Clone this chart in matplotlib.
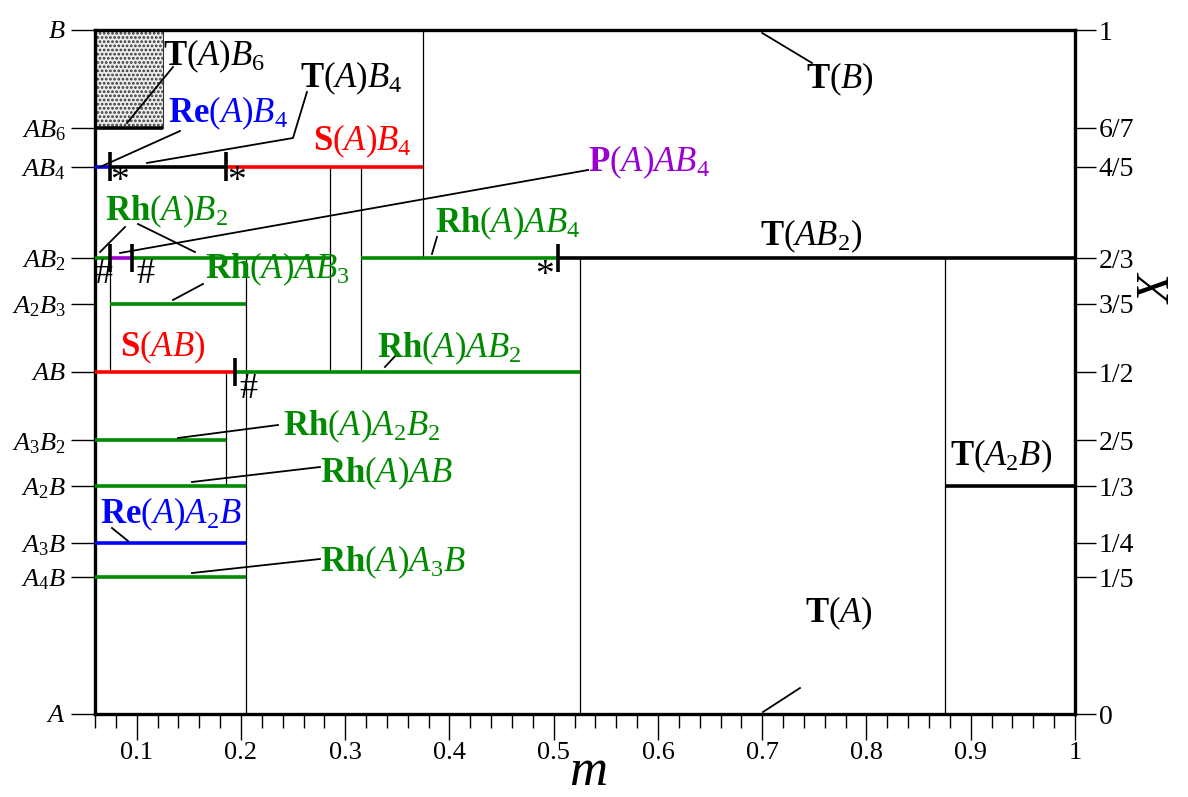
import matplotlib
matplotlib.use("Agg")
import matplotlib.pyplot as plt
from matplotlib.patches import Rectangle

plt.rcParams['font.family'] = ['Liberation Serif', 'DejaVu Serif']
plt.rcParams['mathtext.fontset'] = 'custom'
plt.rcParams['mathtext.rm'] = 'Liberation Serif'
plt.rcParams['mathtext.it'] = 'Liberation Serif:italic'
plt.rcParams['mathtext.bf'] = 'Liberation Serif:bold'
plt.rcParams['hatch.linewidth'] = 1.3

# ---------------- data ----------------
level_values = [0, 1/5, 1/4, 1/3, 2/5, 1/2, 3/5, 2/3, 4/5, 6/7, 1]
level_left_labels = [r'$A$', r'$A_{\mathit{4}}B$', r'$A_{\mathit{3}}B$', r'$A_{\mathit{2}}B$',
                     r'$A_{\mathit{3}}B_{\mathit{2}}$', r'$AB$', r'$A_{\mathit{2}}B_{\mathit{3}}$',
                     r'$AB_{\mathit{2}}$', r'$AB_{\mathit{4}}$', r'$AB_{\mathit{6}}$', r'$B$']
level_right_labels = ['0', '1/5', '1/4', '1/3', '2/5', '1/2', '3/5', '2/3', '4/5', '6/7', '1']

m_ticks = [0.1, 0.2, 0.3, 0.4, 0.5, 0.6, 0.7, 0.8, 0.9, 1.0]
m_tick_labels = ['0.1', '0.2', '0.3', '0.4', '0.5', '0.6', '0.7', '0.8', '0.9', '1']

# phase segments (composition level, m start, m end, structure kind)
seg_level = [6/7, 4/5, 4/5, 4/5, 2/3, 2/3, 2/3, 2/3, 2/3, 3/5, 1/2, 1/2, 2/5, 1/3, 1/3, 1/4, 1/5]
seg_start = [0.06, 0.06, 0.0744, 0.186, 0.06, 0.0744, 0.0955, 0.3151, 0.505, 0.0744,
             0.06, 0.1943, 0.06, 0.06, 0.875, 0.06, 0.06]
seg_end = [0.125, 0.0744, 0.186, 0.375, 0.0744, 0.0955, 0.2854, 0.505, 1.0, 0.205,
           0.1943, 0.525, 0.186, 0.205, 1.0, 0.205, 0.205]
seg_kind = ['T', 'Re', 'T', 'S', 'Rh', 'P', 'Rh', 'Rh', 'T', 'Rh',
            'S', 'Rh', 'Rh', 'Rh', 'T', 'Re', 'Rh']

# region boundaries (m, lower level, upper level)
bound_m = [0.0744, 0.186, 0.205, 0.2854, 0.3151, 0.375, 0.525, 0.875]
bound_lo = [1/2, 1/3, 0, 1/2, 1/2, 2/3, 0, 0]
bound_hi = [2/3, 1/2, 2/3, 4/5, 4/5, 1, 2/3, 2/3]

# transition marks
mark_m = [0.0744, 0.1857, 0.0744, 0.0955, 0.1943, 0.504]
mark_level = [4/5, 4/5, 2/3, 2/3, 1/2, 2/3]

# transition-order symbols
sym_text = ['*', '*', '*', '#', '#', '#']
sym_m = [0.084, 0.196, 0.4916, 0.0677, 0.108, 0.2067]
sym_level = [0.778, 0.778, 0.640, 0.642, 0.642, 0.4737]

# phase labels
lab_text = [r'$\mathbf{T}(A)B_{\mathit{6}}$', r'$\mathbf{T}(A)B_{\mathit{4}}$',
            r'$\mathbf{Re}(A)B_{\mathit{4}}$', r'$\mathbf{S}(A)B_{\mathit{4}}$',
            r'$\mathbf{P}(A)AB_{\mathit{4}}$', r'$\mathbf{Rh}(A)B_{\mathit{2}}$',
            r'$\mathbf{Rh}(A)AB_{\mathit{3}}$', r'$\mathbf{Rh}(A)AB_{\mathit{4}}$',
            r'$\mathbf{T}(AB_{\mathit{2}})$', r'$\mathbf{T}(B)$', r'$\mathbf{S}(AB)$',
            r'$\mathbf{Rh}(A)AB_{\mathit{2}}$', r'$\mathbf{Rh}(A)A_{\mathit{2}}B_{\mathit{2}}$',
            r'$\mathbf{Rh}(A)AB$', r'$\mathbf{Re}(A)A_{\mathit{2}}B$',
            r'$\mathbf{Rh}(A)A_{\mathit{3}}B$', r'$\mathbf{T}(A)$', r'$\mathbf{T}(A_{\mathit{2}}B)$']
lab_kind = ['T', 'T', 'Re', 'S', 'P', 'Rh', 'Rh', 'Rh', 'T', 'T', 'S', 'Rh', 'Rh', 'Rh',
            'Re', 'Rh', 'T', 'T']
lab_m = [0.1252, 0.2566, 0.130, 0.2691, 0.5329, 0.0696, 0.1655, 0.3861, 0.6978, 0.742,
         0.084, 0.3305, 0.2403, 0.2758, 0.0648, 0.2758, 0.741, 0.880]
lab_level = [0.9488, 0.9167, 0.8655, 0.8246, 0.7939, 0.7222, 0.6374, 0.7047, 0.6857, 0.9152,
             0.5234, 0.5219, 0.4079, 0.3392, 0.2792, 0.2091, 0.1345, 0.364]

# leader lines (polylines in data coords)
leader_m = [[0.1348, 0.0907], [0.2633, 0.2499, 0.1099], [0.1415, 0.0648], [0.5329, 0.084],
            [0.0888, 0.0648], [0.1012, 0.1559], [0.1636, 0.1348], [0.388, 0.3832],
            [0.3506, 0.3381], [0.2355, 0.1396], [0.2758, 0.153], [0.0763, 0.0917],
            [0.2758, 0.153], [0.70, 0.7477], [0.7362, 0.7007]]
leader_level = [[0.9459, 0.864], [0.9094, 0.8421, 0.8056], [0.8523, 0.7997], [0.7953, 0.674],
                [0.712, 0.6754], [0.7164, 0.6754], [0.6287, 0.6053], [0.6974, 0.6725],
                [0.5278, 0.5073], [0.4225, 0.4035], [0.3611, 0.3392], [0.2719, 0.2529],
                [0.2266, 0.2061], [0.9956, 0.9518], [0.038, 0.0029]]

kind_color = {'T': 'black', 'Re': '#0000ff', 'S': '#ff0000', 'Rh': '#008a00', 'P': '#9a00d0'}

# ---------------- figure ----------------
fig = plt.figure(figsize=(11.88, 7.97), dpi=100)
ax = fig.add_axes([95/1188, 1 - 714/797, 980/1188, 684/797])
ax.set_xlim(0.06, 1.0)
ax.set_ylim(0, 1)

# hatched T(A)B6 region
ax.add_patch(Rectangle((0.06, 6/7), 0.125 - 0.06, 1 - 6/7, facecolor='#ececec',
                       edgecolor='#333333', hatch='....', linewidth=0.8, zorder=1))

for m, lo, hi in zip(bound_m, bound_lo, bound_hi):
    ax.plot([m, m], [lo, hi], color='black', lw=0.9, zorder=2)

for y, a, b, k in zip(seg_level, seg_start, seg_end, seg_kind):
    ax.plot([a, b], [y, y], color=kind_color[k], lw=2.6, solid_capstyle='butt', zorder=3)

for m, y in zip(mark_m, mark_level):
    ax.plot([m, m], [y - 0.021, y + 0.021], color='black', lw=2.6, solid_capstyle='butt', zorder=4)

for t, m, y in zip(sym_text, sym_m, sym_level):
    ax.text(m, y, t, fontsize=27 if t == '*' else 26, ha='center', va='center',
            color='black', zorder=5)

for t, k, m, y in zip(lab_text, lab_kind, lab_m, lab_level):
    ax.text(m, y, t, fontsize=25, ha='left', va='baseline', color=kind_color[k], zorder=5)

for ms, ys in zip(leader_m, leader_level):
    ax.plot(ms, ys, color='black', lw=1.3, zorder=4)

# spines
for s in ax.spines.values():
    s.set_linewidth(2.4)

# bottom axis
ax.set_xticks(m_ticks)
ax.set_xticklabels(m_tick_labels, fontsize=19)
ax.set_xticks([0.06 + 0.02 * i for i in range(48)], minor=True)
ax.tick_params(axis='x', which='major', direction='out', length=19, width=1.0, pad=1)
ax.tick_params(axis='x', which='minor', direction='out', length=10, width=1.0)
ax.set_xlabel('m', fontsize=38, fontstyle='italic')
ax.xaxis.set_label_coords(0.503, -0.104)
ax.xaxis.label.set_va('baseline')

# left axis
ax.set_yticks(level_values)
ax.set_yticklabels(level_left_labels, fontsize=19)
ax.tick_params(axis='y', which='major', direction='out', length=17, width=1.0, pad=4)

# right axis
ax2 = ax.twinx()
ax2.set_ylim(0, 1)
ax2.set_yticks(level_values)
ax2.set_yticklabels(level_right_labels, fontsize=20)
ax2.tick_params(axis='y', direction='out', length=15, width=1.0, pad=2)
for s in ax2.spines.values():
    s.set_visible(False)
ax2.set_ylabel('X', fontsize=34, fontstyle='italic', rotation=90)
ax2.yaxis.set_label_coords(1.086, 0.62)
ax2.yaxis.label.set_va('center')
ax2.yaxis.label.set_ha('center')

fig.savefig('out.png', dpi=100)
